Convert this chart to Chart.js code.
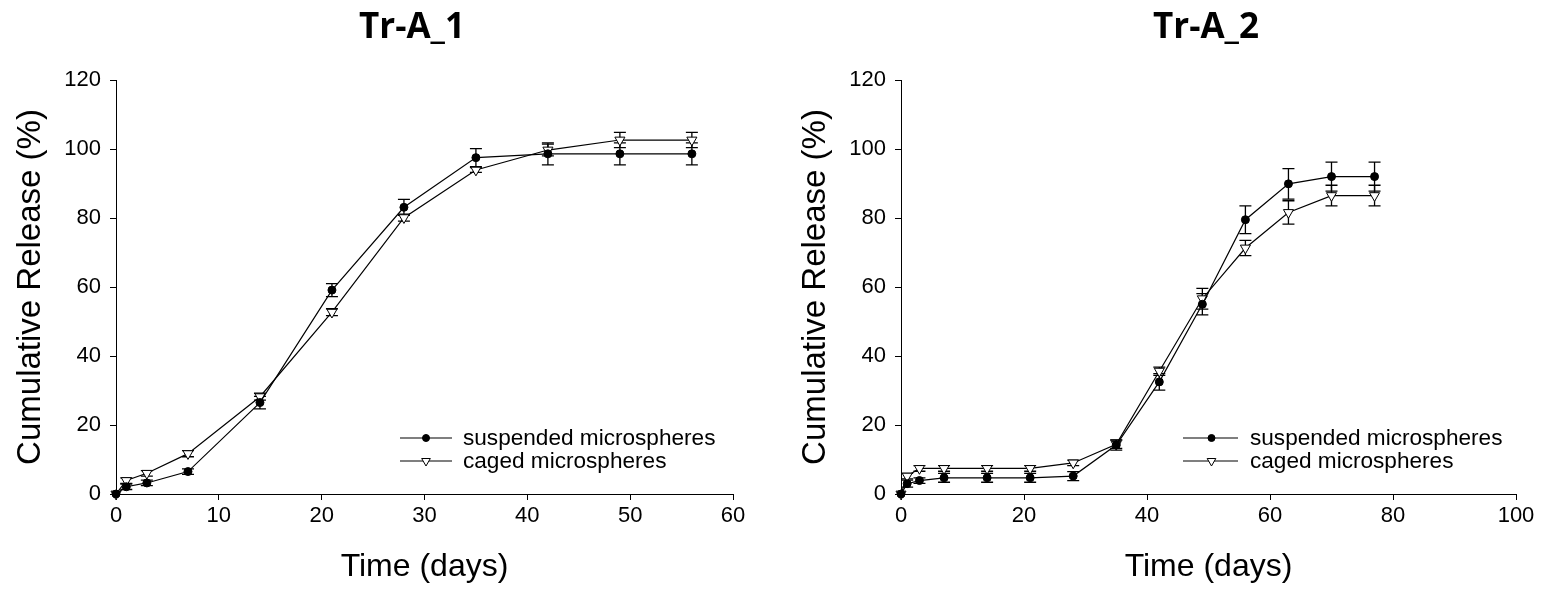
<!DOCTYPE html>
<html>
<head>
<meta charset="utf-8">
<script src="https://cdn.jsdelivr.net/npm/chart.js@4.4.0/dist/chart.umd.min.js"></script>
<style>
  html, body { margin: 0; padding: 0; background: #fff; }
  #wrap { position: relative; width: 1541px; height: 591px; }
  .panel { position: absolute; top: 0; height: 591px; }
</style>
</head>
<body>
<div id="wrap">
  <div class="panel" style="left:0;width:770px"><canvas id="chartA1" width="770" height="591"></canvas></div>
  <div class="panel" style="left:770px;width:771px"><canvas id="chartA2" width="771" height="591"></canvas></div>
</div>
<script>
// Tr-A_1
const daysA1 = [0, 1, 3, 7, 14, 21, 28, 35, 42, 49, 56];
const suspA1 = [0, 2.1, 3.2, 6.5, 26.5, 59.1, 83.1, 97.5, 98.6, 98.6, 98.6];
const suspA1Err = [0, 0.8, 0.8, 0.8, 1.8, 1.9, 2.3, 2.6, 3.2, 3.2, 3.2];
const cagedA1 = [0, 3.9, 6.0, 11.7, 28.2, 52.7, 80.1, 93.9, 99.7, 102.6, 102.6];
const cagedA1Err = [0, 0.8, 0.8, 0.9, 1.0, 1.0, 1.0, 0.7, 1.7, 2.2, 2.2];

// Tr-A_2
const daysA2 = [0, 1, 3, 7, 14, 21, 28, 35, 42, 49, 56, 63, 70, 77];
const suspA2 = [0, 3.0, 3.9, 4.7, 4.7, 4.7, 5.2, 14.2, 32.5, 55.0, 79.5, 89.9, 92.0, 92.0];
const suspA2Err = [0, 1.0, 0.8, 1.3, 1.3, 1.3, 1.3, 1.5, 2.4, 3.1, 4.0, 4.4, 4.2, 4.2];
const cagedA2 = [0, 5.2, 7.4, 7.4, 7.4, 7.4, 9.0, 14.4, 35.6, 56.6, 71.3, 81.6, 86.5, 86.5];
const cagedA2Err = [0, 0.8, 0.8, 0.8, 0.8, 0.8, 0.8, 1.2, 1.2, 3.0, 2.2, 3.4, 3.0, 3.0];

const yTicks = [0, 20, 40, 60, 80, 100, 120];
const seriesNames = ["suspended microspheres", "caged microspheres"];

const AXIS_FONT = "'Liberation Sans', Arial, sans-serif";

function toPoints(xs, ys) {
  return xs.map((x, i) => ({ x: x, y: ys[i] }));
}

// error bars, panel title and in-plot legend
const decorPlugin = {
  id: "decor",
  beforeDatasetsDraw(chart, args, opts) {
    const ctx = chart.ctx;
    const xs = chart.scales.x;
    const ys = chart.scales.y;
    ctx.save();
    ctx.strokeStyle = "#000";
    ctx.lineWidth = 1.3;
    opts.errors.forEach((err, di) => {
      chart.data.datasets[di].data.forEach((p, i) => {
        const e = err[i];
        if (!e) return;
        const px = xs.getPixelForValue(p.x);
        const top = ys.getPixelForValue(p.y + e);
        const bot = ys.getPixelForValue(p.y - e);
        ctx.beginPath();
        ctx.moveTo(px, top); ctx.lineTo(px, bot);
        ctx.moveTo(px - 6, top); ctx.lineTo(px + 6, top);
        ctx.moveTo(px - 6, bot); ctx.lineTo(px + 6, bot);
        ctx.stroke();
      });
    });
    ctx.restore();
  },
  afterDraw(chart, args, opts) {
    const ctx = chart.ctx;
    ctx.save();
    // title
    ctx.fillStyle = "#000";
    ctx.font = "bold 35px 'Open Sans', sans-serif";
    ctx.textAlign = "center";
    ctx.textBaseline = "alphabetic";
    ctx.fillText(opts.title.text, opts.title.x, opts.title.y);

    // legend
    const lg = opts.legend;
    ctx.font = "22.6px " + AXIS_FONT;
    ctx.textAlign = "left";
    ctx.textBaseline = "middle";
    chart.data.datasets.forEach((ds, i) => {
      const y = lg.rows[i];
      ctx.strokeStyle = "#000";
      ctx.lineWidth = 1.2;
      ctx.beginPath();
      ctx.moveTo(lg.x1, y); ctx.lineTo(lg.x2, y);
      ctx.stroke();
      ctx.fillStyle = ds.pointBackgroundColor;
      ctx.strokeStyle = "#000";
      ctx.lineWidth = 1;
      Chart.helpers.drawPoint(ctx, {
        pointStyle: ds.pointStyle,
        rotation: ds.pointRotation,
        radius: lg.radius[i],
        borderWidth: 1
      }, lg.xm, y);
      ctx.fillStyle = "#000";
      ctx.fillText(ds.label, lg.xt, y + 1);
    });
    ctx.restore();
  }
};

function makeChart(id, days, susp, suspErr, caged, cagedErr, xMax, xStep, layout) {
  return new Chart(document.getElementById(id), {
    type: "line",
    data: {
      datasets: [
        {
          label: seriesNames[0],
          data: toPoints(days, susp),
          borderColor: "#000",
          borderWidth: 1.2,
          pointStyle: "circle",
          pointRadius: 4,
          pointBackgroundColor: "#000",
          pointBorderColor: "#000",
          pointBorderWidth: 1,
          pointRotation: 0,
          tension: 0,
          clip: 12
        },
        {
          label: seriesNames[1],
          data: toPoints(days, caged),
          borderColor: "#000",
          borderWidth: 1.2,
          pointStyle: "triangle",
          pointRotation: 180,
          pointRadius: 5.8,
          pointBackgroundColor: "#fff",
          pointBorderColor: "#000",
          pointBorderWidth: 1,
          tension: 0,
          clip: 12
        }
      ]
    },
    options: {
      responsive: false,
      animation: false,
      events: [],
      layout: { padding: { top: 80, right: layout.right, bottom: 0, left: 0 } },
      scales: {
        x: {
          type: "linear",
          min: 0,
          max: xMax,
          ticks: {
            stepSize: xStep,
            color: "#000",
            padding: 3,
            font: { family: AXIS_FONT, size: 22 }
          },
          grid: { drawOnChartArea: false, drawTicks: true, tickLength: 6, tickColor: "#000", tickWidth: 1 },
          border: { color: "#000", width: 1 },
          title: {
            display: true,
            text: "Time (days)",
            color: "#000",
            font: { family: AXIS_FONT, size: 32 },
            padding: { top: 0, bottom: 5 }
          },
          afterFit(scale) { scale.height = 97; }
        },
        y: {
          type: "linear",
          min: 0,
          max: 120,
          afterBuildTicks(scale) { scale.ticks = yTicks.map(v => ({ value: v })); },
          ticks: {
            color: "#000",
            padding: 9,
            font: { family: AXIS_FONT, size: 22 }
          },
          grid: { drawOnChartArea: false, drawTicks: true, tickLength: 6, tickColor: "#000", tickWidth: 1 },
          border: { color: "#000", width: 1 },
          title: {
            display: true,
            text: "Cumulative Release (%)",
            color: "#000",
            font: { family: AXIS_FONT, size: 33 },
            padding: { top: layout.yTitlePad, bottom: 0 }
          },
          afterFit(scale) { scale.width = layout.yWidth; }
        }
      },
      plugins: {
        legend: { display: false },
        tooltip: { enabled: false },
        decor: {
          errors: [suspErr, cagedErr],
          title: layout.title,
          legend: layout.legend
        }
      }
    },
    plugins: [decorPlugin]
  });
}

makeChart("chartA1", daysA1, suspA1, suspA1Err, cagedA1, cagedA1Err, 60, 10, {
  right: 37,
  yWidth: 116,
  yTitlePad: 11,
  title: { text: "Tr-A_1", x: 412, y: 38 },
  legend: { x1: 400, x2: 452, xm: 426, xt: 463, rows: [438, 461], radius: [3.5, 5] }
});

makeChart("chartA2", daysA2, suspA2, suspA2Err, cagedA2, cagedA2Err, 100, 20, {
  right: 25,
  yWidth: 131,
  yTitlePad: 26,
  title: { text: "Tr-A_2", x: 436, y: 38 },
  legend: { x1: 413, x2: 468, xm: 441.5, xt: 480, rows: [438, 461], radius: [3.5, 5] }
});
</script>
</body>
</html>
